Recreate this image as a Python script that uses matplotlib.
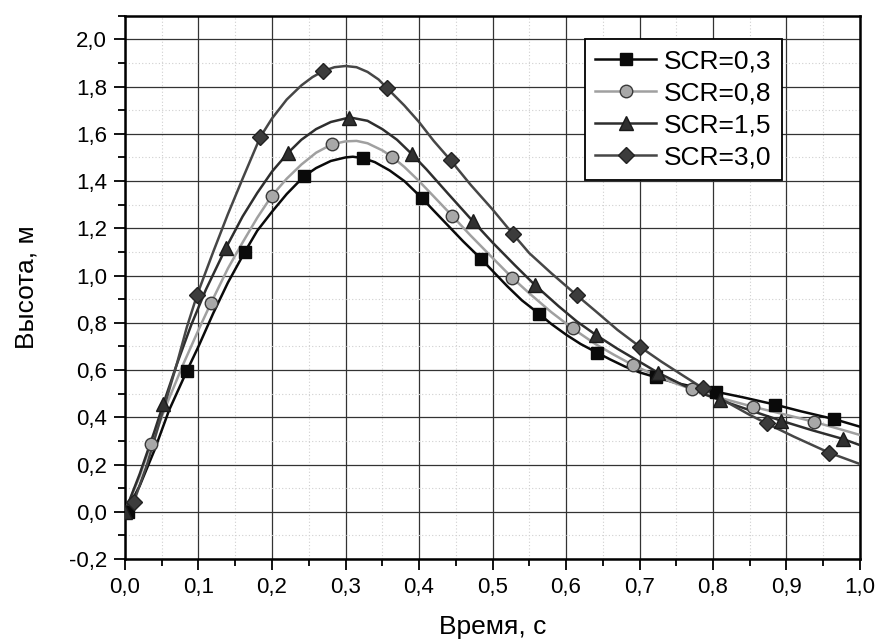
import matplotlib
matplotlib.use("Agg")
import matplotlib.pyplot as plt
from matplotlib.ticker import MultipleLocator, FuncFormatter

plt.rcParams['font.family'] = ['Liberation Sans', 'DejaVu Sans']

# ---- data ----
labels = ["SCR=0,3", "SCR=0,8", "SCR=1,5", "SCR=3,0"]

# curve lines
x03 = [0, 0.02, 0.04, 0.06, 0.084, 0.1, 0.12, 0.14, 0.163, 0.18, 0.2, 0.22, 0.2435, 0.26, 0.28, 0.30, 0.31,
       0.324, 0.34, 0.36, 0.38, 0.404, 0.42, 0.44, 0.46, 0.484, 0.50, 0.52, 0.54, 0.563, 0.58, 0.60, 0.62,
       0.642, 0.66, 0.68, 0.70, 0.723, 0.75, 0.78, 0.804, 0.84, 0.884, 0.92, 0.965, 1.0]
y03 = [-0.01, 0.11, 0.26, 0.43, 0.595, 0.70, 0.84, 0.97, 1.10, 1.19, 1.27, 1.345, 1.42, 1.455, 1.485, 1.50, 1.503,
       1.497, 1.48, 1.445, 1.40, 1.328, 1.275, 1.21, 1.145, 1.072, 1.02, 0.955, 0.895, 0.839, 0.795, 0.75, 0.71,
       0.674, 0.645, 0.615, 0.59, 0.569, 0.545, 0.525, 0.508, 0.485, 0.454, 0.425, 0.392, 0.36]

x08 = [0, 0.02, 0.035, 0.06, 0.08, 0.1, 0.117, 0.14, 0.16, 0.18, 0.1996, 0.22, 0.24, 0.26, 0.281, 0.30, 0.315,
       0.33, 0.35, 0.3637, 0.38, 0.40, 0.42, 0.4454, 0.47, 0.50, 0.527, 0.55, 0.58, 0.609, 0.64, 0.665, 0.691,
       0.72, 0.745, 0.772, 0.80, 0.83, 0.855, 0.90, 0.937, 0.97, 1.0]
y08 = [0, 0.15, 0.286, 0.48, 0.63, 0.77, 0.884, 1.03, 1.14, 1.245, 1.337, 1.41, 1.47, 1.52, 1.555, 1.568, 1.57,
       1.56, 1.53, 1.502, 1.46, 1.40, 1.335, 1.252, 1.17, 1.075, 0.99, 0.925, 0.845, 0.776, 0.71, 0.665, 0.621,
       0.58, 0.548, 0.518, 0.49, 0.465, 0.444, 0.41, 0.381, 0.352, 0.325]

x15 = [0, 0.02, 0.04, 0.052, 0.07, 0.09, 0.11, 0.137, 0.16, 0.18, 0.2, 0.222, 0.24, 0.26, 0.28, 0.30, 0.31,
       0.33, 0.35, 0.37, 0.39, 0.41, 0.44, 0.473, 0.50, 0.53, 0.558, 0.59, 0.615, 0.641, 0.67, 0.70, 0.7256,
       0.76, 0.79, 0.8095, 0.85, 0.893, 0.935, 0.977, 1.0]
y15 = [0, 0.16, 0.34, 0.455, 0.62, 0.79, 0.94, 1.115, 1.25, 1.35, 1.44, 1.52, 1.575, 1.62, 1.65, 1.665, 1.667,
       1.655, 1.62, 1.575, 1.515, 1.45, 1.345, 1.231, 1.14, 1.045, 0.959, 0.87, 0.805, 0.748, 0.69, 0.635, 0.588,
       0.535, 0.495, 0.473, 0.43, 0.385, 0.345, 0.308, 0.282]

x30 = [0, 0.012, 0.03, 0.05, 0.07, 0.084, 0.098, 0.12, 0.14, 0.16, 0.184, 0.20, 0.22, 0.24, 0.255, 0.27, 0.285,
       0.30, 0.315, 0.33, 0.345, 0.356, 0.38, 0.40, 0.42, 0.443, 0.47, 0.50, 0.528, 0.55, 0.58, 0.6145, 0.64,
       0.67, 0.7007, 0.73, 0.76, 0.787, 0.82, 0.85, 0.873, 0.91, 0.958, 1.0]
y30 = [0, 0.042, 0.20, 0.41, 0.62, 0.78, 0.917, 1.10, 1.26, 1.41, 1.586, 1.665, 1.745, 1.805, 1.84, 1.866, 1.882,
       1.887, 1.882, 1.862, 1.83, 1.795, 1.72, 1.65, 1.57, 1.488, 1.385, 1.28, 1.175, 1.095, 1.01, 0.917, 0.85,
       0.77, 0.698, 0.635, 0.575, 0.522, 0.462, 0.41, 0.374, 0.318, 0.250, 0.202]

# markers
mx03 = [0.004, 0.084, 0.163, 0.2435, 0.324, 0.404, 0.484, 0.563, 0.642, 0.723, 0.804, 0.884, 0.965]
my03 = [0.0, 0.595, 1.10, 1.42, 1.497, 1.328, 1.072, 0.839, 0.674, 0.569, 0.508, 0.454, 0.392]

mx08 = [0.035, 0.117, 0.1996, 0.281, 0.3637, 0.4454, 0.527, 0.609, 0.691, 0.772, 0.855, 0.937]
my08 = [0.286, 0.884, 1.337, 1.555, 1.502, 1.252, 0.99, 0.776, 0.621, 0.518, 0.444, 0.381]

mx15 = [0.0, 0.052, 0.137, 0.222, 0.305, 0.390, 0.473, 0.558, 0.641, 0.7256, 0.8095, 0.893, 0.977]
my15 = [0.0, 0.455, 1.115, 1.52, 1.666, 1.515, 1.231, 0.959, 0.748, 0.588, 0.473, 0.385, 0.308]

mx30 = [0.012, 0.098, 0.184, 0.270, 0.356, 0.443, 0.528, 0.6145, 0.7007, 0.787, 0.873, 0.958]
my30 = [0.042, 0.917, 1.586, 1.866, 1.795, 1.488, 1.175, 0.917, 0.698, 0.522, 0.374, 0.250]

fig = plt.figure(figsize=(8.79, 6.44), dpi=100)
ax = fig.add_axes([125/879, 1-559/644, 735/879, (559-15.7)/644])

ax.set_xlim(0, 1.0)
ax.set_ylim(-0.2, 2.1)

ax.xaxis.set_major_locator(MultipleLocator(0.1))
ax.xaxis.set_minor_locator(MultipleLocator(0.05))
ax.yaxis.set_major_locator(MultipleLocator(0.2))
ax.yaxis.set_minor_locator(MultipleLocator(0.1))

fmt = FuncFormatter(lambda v, p: ("%.1f" % v).replace(".", ",").replace("-0,0", "0,0"))
ax.xaxis.set_major_formatter(fmt)
ax.yaxis.set_major_formatter(fmt)

ax.grid(which='minor', color='#d0d0d0', linestyle=(0, (1, 2)), linewidth=0.8)
ax.grid(which='major', color='#333333', linestyle='-', linewidth=0.9)
ax.set_axisbelow(True)

ax.tick_params(which='major', direction='out', length=8, width=1.3, labelsize=16, pad=5,
               top=False, right=False)
ax.tick_params(which='minor', direction='out', length=5, width=1.3, top=False, right=False)
for s in ax.spines.values():
    s.set_linewidth(1.8)
    s.set_color('black')

lw = 1.8
ax.plot(x03, y03, color='#0a0a0a', lw=lw, zorder=3)
ax.plot(x08, y08, color='#a0a0a0', lw=lw, zorder=3)
ax.plot(x15, y15, color='#2e2e2e', lw=lw, zorder=3)
ax.plot(x30, y30, color='#464646', lw=lw, zorder=3)

ax.plot(mx03, my03, ls='none', marker='s', ms=8, mfc='#0a0a0a', mec='#0a0a0a', zorder=4)
ax.plot(mx08, my08, ls='none', marker='o', ms=9, mfc='#a8a8a8', mec='#3a3a3a', mew=1.0, zorder=4)
ax.plot(mx15, my15, ls='none', marker='^', ms=10, mfc='#303030', mec='#1a1a1a', mew=1.0, zorder=4)
ax.plot(mx30, my30, ls='none', marker='D', ms=8, mfc='#3c3c3c', mec='#222222', mew=1.0, zorder=4)

# legend handles drawn from same styles
h1, = ax.plot([], [], color='#0a0a0a', lw=lw, marker='s', ms=8, mfc='#0a0a0a', mec='#0a0a0a')
h2, = ax.plot([], [], color='#a0a0a0', lw=lw, marker='o', ms=9, mfc='#a8a8a8', mec='#3a3a3a')
h3, = ax.plot([], [], color='#2e2e2e', lw=lw, marker='^', ms=10, mfc='#303030', mec='#1a1a1a')
h4, = ax.plot([], [], color='#464646', lw=lw, marker='D', ms=8, mfc='#3c3c3c', mec='#222222')
leg = ax.legend([h1, h2, h3, h4], labels, loc='upper right', bbox_to_anchor=(0.894, 0.957),
                borderaxespad=0, fontsize=19, fancybox=False, framealpha=1, edgecolor='black',
                handlelength=2.3, handletextpad=0.3, labelspacing=0.3, borderpad=0.4)
leg.get_frame().set_linewidth(1.3)

ax.set_xlabel("Время, с", fontsize=19, labelpad=12)
ax.set_ylabel("Высота, м", fontsize=19, labelpad=22)

fig.savefig("out.png", dpi=100)
